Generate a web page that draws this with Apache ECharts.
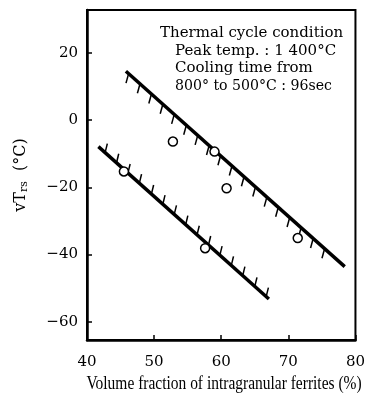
<!DOCTYPE html>
<html>
<head>
<meta charset="utf-8">
<script src="https://cdn.jsdelivr.net/npm/echarts@6/dist/echarts.min.js"></script>
<style>
  html, body { margin: 0; padding: 0; background: #fff; }
  #chart { width: 368px; height: 394px; }
</style>
</head>
<body>
<div id="chart"></div>
<script>
// Axis settings and tick labels
const xTicks = [40, 50, 60, 70, 80];
const yTicks = [-60, -40, -20, 0, 20];

// Measured specimens: [intragranular ferrite %, vTrs °C]
const specimens = [
  [45.5, -15.3],
  [52.8, -6.4],
  [59.0, -9.4],
  [60.8, -20.3],
  [57.6, -38.1],
  [71.4, -35.1]
];

// Bounding lines (end points)
const upperBound = [[45.8, 14.5], [78.4, -43.6]];
const lowerBound = [[41.7, -7.9], [67.1, -53.2]];

// Positions of the hatch strokes along each bounding line
const upperHatchX = [46.2, 47.9, 49.6, 51.3, 53.0, 54.8, 56.5, 58.2, 59.9, 61.6, 63.4, 65.1, 66.8, 68.5, 70.2, 71.9, 73.7, 75.4];
const lowerHatchX = [42.7, 44.4, 46.1, 47.8, 49.6, 51.3, 53.0, 54.7, 56.4, 58.1, 59.8, 61.5, 63.2, 65.0, 66.7];

// Condition note
const noteLines = [
  'Thermal cycle condition',
  'Peak temp. : 1 400°C',
  'Cooling time from',
  '800° to 500°C : 96sec'
];
const xTitle = 'Volume fraction of intragranular ferrites (%)';

function onLine(seg, x) {
  const [[x1, y1], [x2, y2]] = seg;
  return y1 + (x - x1) * (y2 - y1) / (x2 - x1);
}

function hatchSeries(seg, xs, dx, dy) {
  return {
    type: 'custom',
    silent: true,
    data: xs.map(x => [x, onLine(seg, x)]),
    renderItem: function (params, api) {
      const p = api.coord([api.value(0), api.value(1)]);
      return {
        type: 'line',
        shape: { x1: p[0], y1: p[1], x2: p[0] + dx, y2: p[1] + dy },
        style: { stroke: '#000', lineWidth: 1.5 }
      };
    },
    z: 2
  };
}

const serif = 'DejaVu Serif';
const chart = echarts.init(document.getElementById('chart'), null, { renderer: 'canvas' });

const noteGraphics = noteLines.map((t, i) => ({
  type: 'text',
  x: i === 0 ? 160 : 175,
  y: [25.5, 43.5, 60.5, 78.5][i],
  scaleX: i === 3 ? 0.94 : 1,
  style: { text: t, font: '15px "DejaVu Serif"', fill: '#000', textVerticalAlign: 'top' },
  z: 10
}));

// Condensed serif title under the x axis
const xTitleGraphic = {
  type: 'text',
  x: 224, y: 384,
  scaleX: 0.86,
  style: {
    text: xTitle, font: '18px "Liberation Serif"', fill: '#000',
    textAlign: 'center', textVerticalAlign: 'middle'
  },
  z: 10
};

chart.setOption({
  animation: false,
  backgroundColor: '#fff',
  grid: {
    left: 87, right: 11, top: 10, bottom: 54,
    show: true, borderColor: '#000', borderWidth: 2, backgroundColor: 'transparent'
  },
  xAxis: {
    type: 'value',
    min: xTicks[0], max: xTicks[xTicks.length - 1], interval: 10,
    axisLine: { onZero: false, lineStyle: { color: '#000', width: 2.5 } },
    axisTick: { inside: true, length: 5, lineStyle: { color: '#000', width: 1.5 } },
    splitLine: { show: false },
    axisLabel: { color: '#000', fontFamily: serif, fontSize: 15, margin: 15 }
  },
  yAxis: {
    type: 'value',
    min: -65.4, max: 32.7,
    axisLine: { onZero: false, lineStyle: { color: '#000', width: 2.5 } },
    axisTick: { inside: true, length: 5, customValues: yTicks, lineStyle: { color: '#000', width: 1.5 } },
    splitLine: { show: false },
    axisLabel: {
      customValues: yTicks,
      color: '#000', fontFamily: serif, fontSize: 15, margin: 9,
      formatter: v => (v < 0 ? '\u2212' + Math.abs(v) : String(v))
    },
    name: '{m|vT}{s|rs}{m|  (°C)}',
    nameLocation: 'middle',
    nameRotate: 90,
    nameGap: 57,
    nameTextStyle: {
      rich: {
        m: { fontFamily: serif, fontSize: 16, color: '#000', lineHeight: 18, verticalAlign: 'middle' },
        s: { fontFamily: serif, fontSize: 11, color: '#000', lineHeight: 10, verticalAlign: 'bottom' }
      }
    }
  },
  graphic: noteGraphics.concat([xTitleGraphic]),
  series: [
    hatchSeries(upperBound, upperHatchX, -2.6, 9.5),
    hatchSeries(lowerBound, lowerHatchX, 2.2, -9),
    {
      type: 'line', data: upperBound, symbol: 'none', silent: true,
      lineStyle: { color: '#000', width: 3.5 }, z: 3
    },
    {
      type: 'line', data: lowerBound, symbol: 'none', silent: true,
      lineStyle: { color: '#000', width: 3.5 }, z: 3
    },
    {
      type: 'scatter', data: specimens, symbol: 'circle', symbolSize: 9, silent: true,
      itemStyle: { color: '#fff', borderColor: '#000', borderWidth: 1.5, opacity: 1 }, z: 5
    }
  ]
});
</script>
</body>
</html>
